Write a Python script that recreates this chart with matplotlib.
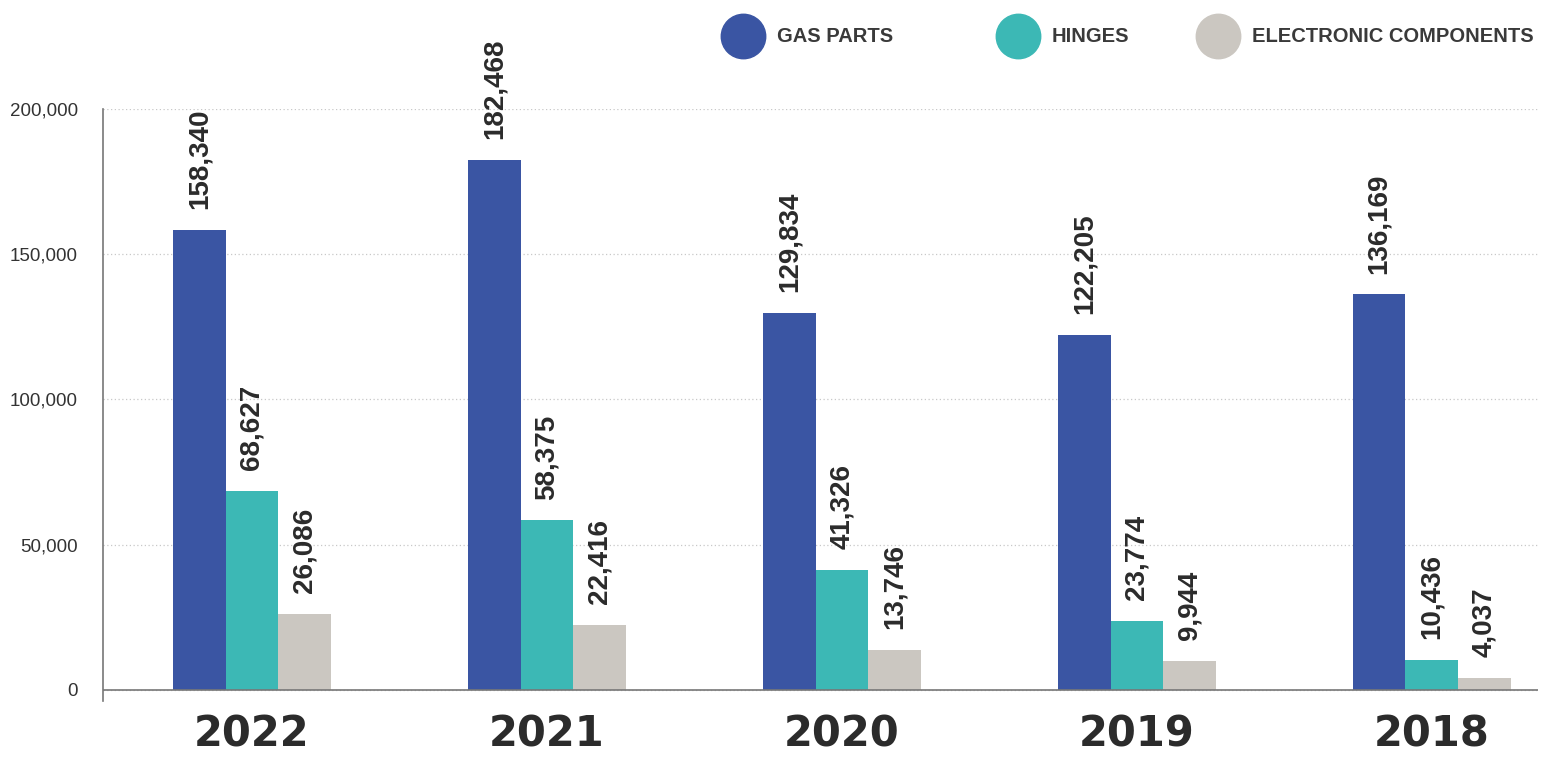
import matplotlib
matplotlib.use("Agg")
import matplotlib.pyplot as plt
from matplotlib.lines import Line2D
import numpy as np

# datos del grafico
anios = ["2022", "2021", "2020", "2019", "2018"]
series = ["GAS PARTS", "HINGES", "ELECTRONIC COMPONENTS"]
gas_parts = [158340, 182468, 129834, 122205, 136169]
hinges = [68627, 58375, 41326, 23774, 10436]
electronic = [26086, 22416, 13746, 9944, 4037]
yticks = [0, 50000, 100000, 150000, 200000]

colores = ["#3a55a3", "#3cb8b5", "#cbc7c1"]

fig = plt.figure(figsize=(15.48, 7.59), dpi=100)
ax = fig.add_axes([0.0665, 0.0764, 0.927, 0.78])

x = np.arange(len(anios))
ancho = 0.178
for i, valores in enumerate([gas_parts, hinges, electronic]):
    pos = x + (i - 1) * ancho
    ax.bar(pos, valores, width=ancho, color=colores[i], zorder=3)
    for px, v in zip(pos, valores):
        ax.annotate(f"{v:,}", (px, v), xytext=(0, 15), textcoords="offset points",
                    rotation=90, ha="center", va="bottom", fontsize=20,
                    fontweight="bold", family="Liberation Sans", color="#2b2b2b")

ax.set_xlim(-0.505, 4.36)
ax.set_ylim(-3800, 200000)
ax.set_yticks(yticks)
ax.set_yticklabels([f"{t:,}" for t in yticks], fontsize=13.5,
                   family="Liberation Sans", color="#333333")
ax.tick_params(axis="y", length=0, pad=18)
ax.set_xticks(x)
ax.set_xticklabels(anios, fontsize=30, fontweight="bold", color="#2b2b2b")
ax.tick_params(axis="x", length=0, pad=9)

ax.grid(axis="y", linestyle=(0, (1, 2)), color="#c8c8c8", linewidth=0.9, zorder=0)
ax.axhline(0, color="#777777", linewidth=1.2, zorder=4)
for lado in ["top", "right", "bottom"]:
    ax.spines[lado].set_visible(False)
ax.spines["left"].set_color("#777777")
ax.spines["left"].set_linewidth(1.2)

# leyenda a mano
leyenda_x = [743, 1018, 1218]
for cx, nombre, c in zip(leyenda_x, series, colores):
    fig.add_artist(Line2D([cx / 1548], [1 - 36 / 759], marker="o", markersize=32,
                          color=c, linestyle="none", transform=fig.transFigure))
    fig.text((cx + 34) / 1548, 1 - 37 / 759, nombre, ha="left", va="center",
             fontsize=14.5, fontweight="bold", family="Liberation Sans", color="#3a3a3a")

fig.savefig("out.png", dpi=100)
